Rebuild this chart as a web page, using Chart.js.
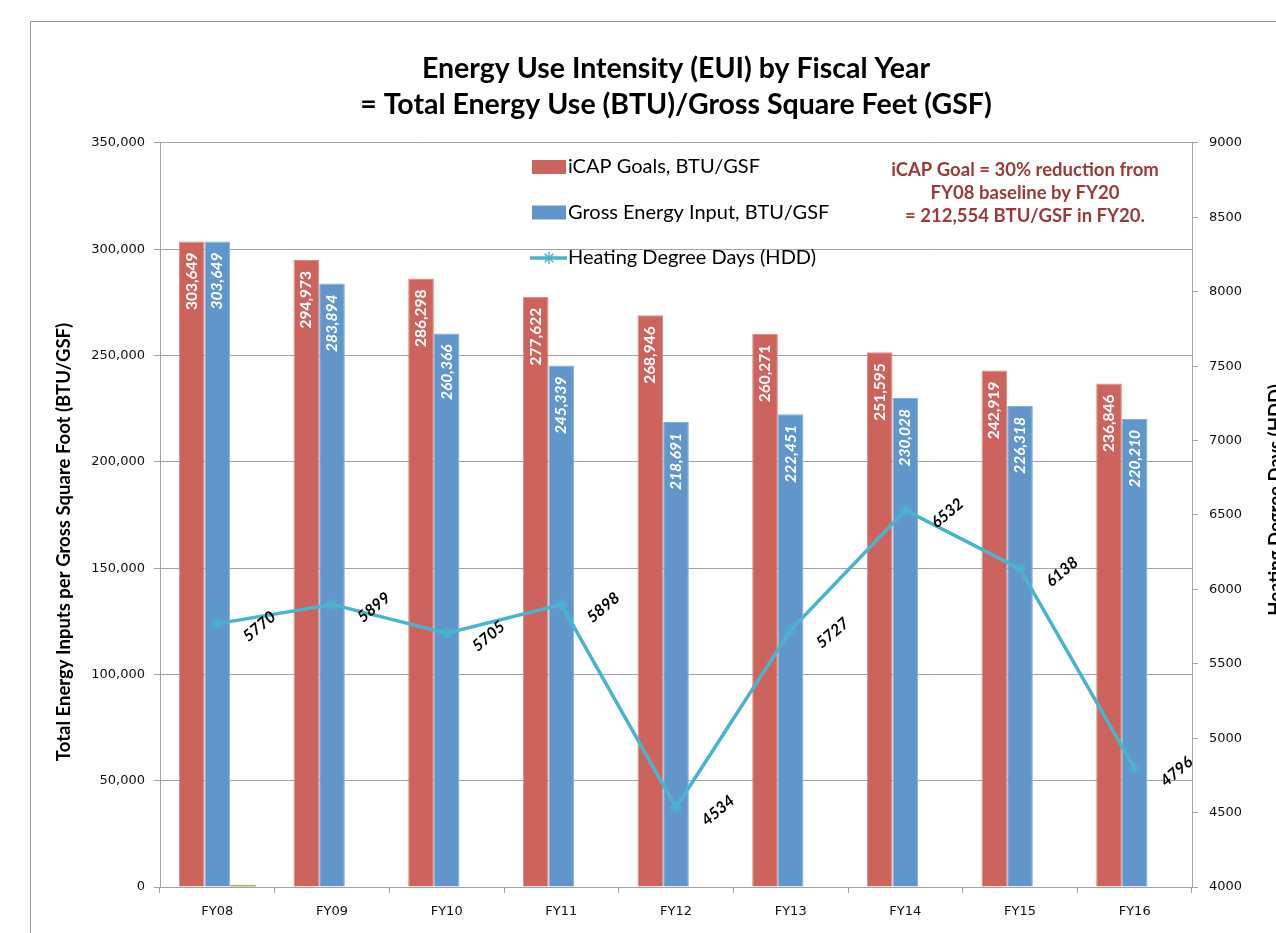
<!DOCTYPE html>
<html>
<head>
<meta charset="utf-8">
<script src="https://cdn.jsdelivr.net/npm/chart.js@4.4.0/dist/chart.umd.min.js"></script>
<style>
html,body{margin:0;padding:0;background:#fff;overflow:hidden;width:1276px;height:933px;}
#frame{position:absolute;left:30px;top:21px;border-left:1px solid #9c9c9c;border-top:1px solid #9c9c9c;width:1300px;height:930px;}
canvas{display:block;}
</style>
</head>
<body>
<div id="frame"><canvas id="c" width="1290" height="915" style="width:1290px;height:915px"></canvas></div>
<script>
// ---- data ----
const categories = ['FY08','FY09','FY10','FY11','FY12','FY13','FY14','FY15','FY16'];
const icapGoals = [303649, 294973, 286298, 277622, 268946, 260271, 251595, 242919, 236846];
const grossEnergyInput = [303649, 283894, 260366, 245339, 218691, 222451, 230028, 226318, 220210];
const heatingDegreeDays = [5770, 5899, 5705, 5898, 4534, 5727, 6532, 6138, 4796];
const extraSeries = [1000, null, null, null, null, null, null, null, null];
const seriesNames = ['iCAP Goals, BTU/GSF', 'Gross Energy Input, BTU/GSF', 'Heating Degree Days (HDD)', 'Series 4'];
const titleLines = ['Energy Use Intensity (EUI) by Fiscal Year', '= Total Energy Use (BTU)/Gross Square Feet (GSF)'];
const leftAxisTitle = 'Total Energy Inputs per Gross Square Foot (BTU/GSF)';
const rightAxisTitle = 'Heating Degree Days (HDD)';
const annotationLines = ['iCAP Goal = 30% reduction from', 'FY08 baseline by FY20', '= 212,554 BTU/GSF in FY20.'];

// ---- styles ----
const RED = '#CC645D', BLUE = '#6196CB', GREEN = '#9BBB59', AQUA = '#4AB4CD', GRID = '#A3A3A3';
const CAL = 'Lato, "Open Sans", sans-serif';
const VER = '"DejaVu Sans", Verdana, sans-serif';
const commas = v => Number(v).toLocaleString('en-US');

function drawStar(ctx, x, y, r, color, lw) {
  ctx.save();
  ctx.strokeStyle = color; ctx.lineWidth = lw;
  ctx.beginPath();
  ctx.moveTo(x - r, y); ctx.lineTo(x + r, y);
  ctx.moveTo(x, y - r); ctx.lineTo(x, y + r);
  const d = r * 0.7071;
  ctx.moveTo(x - d, y - d); ctx.lineTo(x + d, y + d);
  ctx.moveTo(x - d, y + d); ctx.lineTo(x + d, y - d);
  ctx.stroke();
  ctx.restore();
}

const labelPlugin = {
  id: 'valueLabels',
  afterDatasetsDraw(chart) {
    const ctx = chart.ctx;
    [0, 1].forEach(di => {
      const meta = chart.getDatasetMeta(di);
      const ds = chart.data.datasets[di];
      meta.data.forEach((bar, i) => {
        const v = ds.data[i];
        if (v == null) return;
        ctx.save();
        ctx.translate(bar.x, bar.y + 11);
        ctx.rotate(-Math.PI / 2);
        ctx.font = (di === 1 ? 'italic ' : '') + 'bold 15.5px ' + CAL;
        ctx.fillStyle = '#fff';
        ctx.textAlign = 'right';
        ctx.textBaseline = 'middle';
        ctx.fillText(commas(v), 0, 0);
        ctx.restore();
      });
    });
    const lm = chart.getDatasetMeta(2);
    const lds = chart.data.datasets[2];
    lm.data.forEach((pt, i) => {
      const v = lds.data[i];
      ctx.save();
      ctx.translate(pt.x + 42, pt.y + 3);
      ctx.rotate(-40 * Math.PI / 180);
      ctx.font = 'italic bold 16px ' + CAL;
      ctx.fillStyle = '#000';
      ctx.textAlign = 'center';
      ctx.textBaseline = 'middle';
      ctx.fillText(String(v), 0, 0);
      ctx.restore();
    });
  }
};

const decorPlugin = {
  id: 'decor',
  afterDraw(chart) {
    const ctx = chart.ctx;
    // legend
    const lx = 501, ly = 145, gap = 45.5;
    [0, 1, 2].forEach((di, k) => {
      const ds = chart.data.datasets[di];
      const y = ly + k * gap;
      ctx.save();
      if (ds.type === 'line') {
        ctx.strokeStyle = ds.borderColor; ctx.lineWidth = 3.5;
        ctx.beginPath(); ctx.moveTo(lx - 2, y); ctx.lineTo(lx + 35, y); ctx.stroke();
        drawStar(ctx, lx + 17, y, 6, ds.borderColor, 1.5);
      } else {
        ctx.fillStyle = ds.backgroundColor;
        ctx.fillRect(lx, y - 7, 34, 14);
      }
      ctx.font = '20px ' + CAL;
      ctx.fillStyle = '#000';
      ctx.textAlign = 'left'; ctx.textBaseline = 'middle';
      ctx.fillText(ds.label, lx + 36, y);
      ctx.restore();
    });
    // annotation
    ctx.save();
    ctx.font = 'bold 18.5px ' + CAL;
    ctx.fillStyle = '#9B3B38';
    ctx.textAlign = 'center'; ctx.textBaseline = 'middle';
    annotationLines.forEach((t, k) => ctx.fillText(t, 994, 148 + k * 23));
    ctx.restore();
    // axis titles
    ctx.save();
    ctx.font = 'bold 18.5px ' + CAL;
    ctx.fillStyle = '#000';
    ctx.textAlign = 'center'; ctx.textBaseline = 'middle';
    ctx.translate(33, 520); ctx.rotate(-Math.PI / 2);
    ctx.fillText(leftAxisTitle, 0, 0);
    ctx.restore();
    ctx.save();
    ctx.font = 'bold 18.5px ' + CAL;
    ctx.fillStyle = '#000';
    ctx.textAlign = 'center'; ctx.textBaseline = 'middle';
    ctx.translate(1245, 478); ctx.rotate(-Math.PI / 2);
    ctx.fillText(rightAxisTitle, 0, 0);
    ctx.restore();
  }
};

const tickFont = { family: VER, size: 13 };

new Chart(document.getElementById('c'), {
  data: {
    labels: categories,
    datasets: [
      { type: 'bar', label: seriesNames[0], data: icapGoals, backgroundColor: RED, borderColor: '#DB8983', borderWidth: 1, yAxisID: 'y', order: 1, categoryPercentage: 0.671, barPercentage: 1.0 },
      { type: 'bar', label: seriesNames[1], data: grossEnergyInput, backgroundColor: BLUE, borderColor: '#86AEDB', borderWidth: 1, yAxisID: 'y', order: 1, categoryPercentage: 0.671, barPercentage: 1.0 },
      { type: 'line', label: seriesNames[2], data: heatingDegreeDays, borderColor: AQUA, backgroundColor: AQUA, borderWidth: 3.5, tension: 0, pointStyle: 'star', pointRadius: 6, pointBorderWidth: 1.5, pointBorderColor: AQUA, yAxisID: 'y1', order: 0 },
      { type: 'bar', label: seriesNames[3], data: extraSeries, backgroundColor: GREEN, borderWidth: 0, yAxisID: 'y', order: 1, categoryPercentage: 0.671, barPercentage: 1.0 }
    ]
  },
  options: {
    responsive: false,
    animation: false,
    devicePixelRatio: 1,
    layout: { padding: 0 },
    plugins: {
      legend: { display: false },
      tooltip: { enabled: false },
      title: {
        display: true, text: titleLines, fullSize: false, color: '#000',
        font: { family: CAL, size: 28.5, weight: 'bold', lineHeight: 1.263 },
        padding: { top: 29, bottom: 20 }
      }
    },
    scales: {
      x: {
        offset: true,
        grid: { offset: true, drawOnChartArea: false, drawTicks: true, tickLength: 6, color: GRID },
        border: { display: true, color: GRID },
        ticks: { font: tickFont, color: '#111', padding: 11, maxRotation: 0, autoSkip: false },
        afterFit(s) { s.height = 50; }
      },
      y: {
        position: 'left', min: 0, max: 350000,
        ticks: { stepSize: 50000, callback: v => commas(v), font: tickFont, color: '#111', padding: 9 },
        grid: { color: GRID, tickLength: 6, drawTicks: true },
        border: { display: true, color: GRID },
        afterFit(s) { s.width = 129; }
      },
      y1: {
        position: 'right', min: 4000, max: 9000,
        ticks: { stepSize: 500, callback: v => String(v), font: tickFont, color: '#111', padding: 11 },
        grid: { drawOnChartArea: false, tickLength: 6, drawTicks: true, color: GRID },
        border: { display: true, color: GRID },
        afterFit(s) { s.width = 129; }
      }
    }
  },
  plugins: [labelPlugin, decorPlugin]
});
</script>
</body>
</html>
